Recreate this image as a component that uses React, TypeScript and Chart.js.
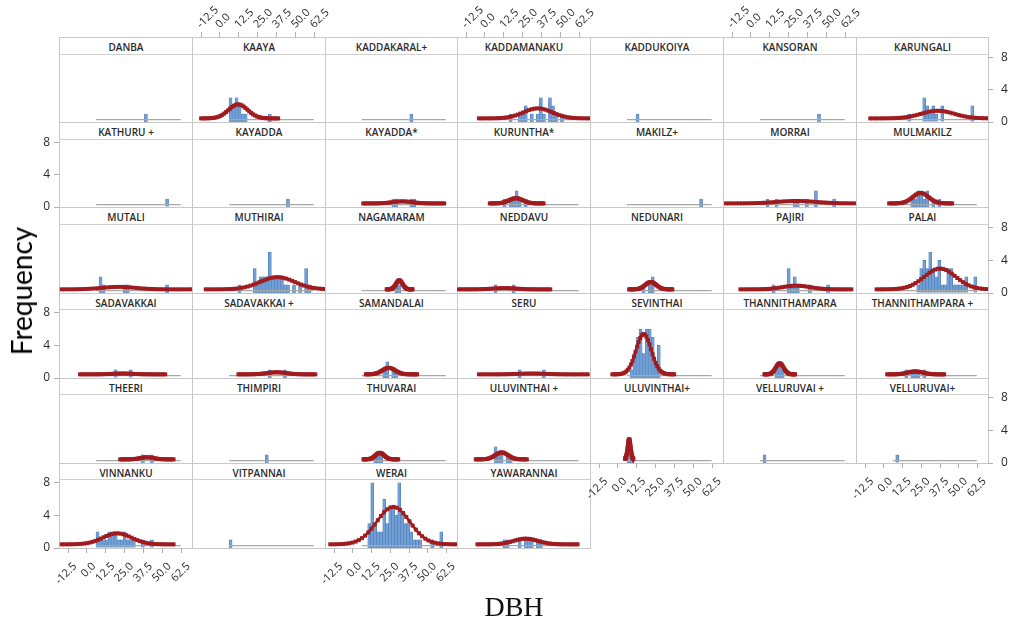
import React, { useEffect, useRef } from 'react';
import { Chart, registerables } from 'chart.js';

Chart.register(...registerables);

// ---------------- data ----------------
const PANEL_NAMES = [
  'DANBA', 'KAAYA', 'KADDAKARAL+', 'KADDAMANAKU', 'KADDUKOIYA', 'KANSORAN', 'KARUNGALI',
  'KATHURU +', 'KAYADDA', 'KAYADDA*', 'KURUNTHA*', 'MAKILZ+', 'MORRAI', 'MULMAKILZ',
  'MUTALI', 'MUTHIRAI', 'NAGAMARAM', 'NEDDAVU', 'NEDUNARI', 'PAJIRI', 'PALAI',
  'SADAVAKKAI', 'SADAVAKKAI +', 'SAMANDALAI', 'SERU', 'SEVINTHAI', 'THANNITHAMPARA', 'THANNITHAMPARA +',
  'THEERI', 'THIMPIRI', 'THUVARAI', 'ULUVINTHAI +', 'ULUVINTHAI+', 'VELLURUVAI +', 'VELLURUVAI+',
  'VINNANKU', 'VITPANNAI', 'WERAI', 'YAWARANNAI',
];

const BIN_WIDTH = 2;
const GRAY_RANGE = [6, 62];
const X_TICKS = [-12.5, 0, 12.5, 25, 37.5, 50, 62.5];
const Y_TICKS = [0, 4, 8];
const TOP_AXIS_COLS = [1, 3, 5];

// histogram bins: [bin start (DBH), count]
const H_DANBA = [[38, 1]];
const H_KAAYA = [[6, 3], [8, 2], [10, 3], [12, 2], [14, 1], [16, 1], [32, 1]];
const H_KADDAKARAL = [[38, 1]];
const H_KADDAMANAKU = [[16, 1], [22, 1], [24, 1], [26, 2], [30, 1], [34, 1], [36, 3], [38, 1], [42, 3], [44, 2], [46, 1], [50, 1]];
const H_KADDUKOIYA = [[12, 1]];
const H_KANSORAN = [[44, 1]];
const H_KARUNGALI = [[16, 1], [26, 3], [28, 2], [30, 1], [32, 2], [34, 1], [38, 2], [58, 2]];
const H_KATHURU = [[52, 1]];
const H_KAYADDA = [[44, 1]];
const H_KAYADDA_S = [[26, 1], [28, 1], [38, 1], [40, 1]];
const H_KURUNTHA_S = [[12, 1], [16, 1], [18, 1], [20, 2], [22, 1], [26, 1]];
const H_MAKILZ = [[54, 1]];
const H_MORRAI = [[10, 1], [16, 1], [28, 1], [30, 1], [36, 1], [42, 2], [54, 1]];
const H_MULMAKILZ = [[18, 1], [20, 1], [22, 2], [24, 2], [26, 1], [28, 2], [32, 1], [36, 1]];
const H_MUTALI = [[8, 2], [10, 1], [24, 1], [26, 1], [52, 1]];
const H_MUTHIRAI = [[12, 1], [22, 3], [24, 1], [26, 2], [28, 2], [30, 2], [32, 5], [34, 2], [36, 2], [38, 2], [40, 2], [42, 1], [44, 1], [48, 1], [52, 1], [56, 3], [58, 1]];
const H_NAGAMARAM = [[28, 1], [30, 1]];
const H_NEDDAVU = [[6, 1], [18, 1]];
const H_NEDUNARI = [[16, 1], [20, 1], [22, 2]];
const H_PAJIRI = [[14, 1], [24, 3], [26, 1], [28, 2], [30, 1], [38, 1], [50, 1]];
const H_PALAI = [[22, 1], [24, 3], [26, 4], [28, 3], [30, 5], [32, 3], [34, 2], [36, 4], [38, 1], [40, 1], [42, 3], [44, 3], [46, 1], [48, 1], [50, 1], [52, 1], [54, 2], [60, 2]];
const H_SADAVAKKAI = [[18, 1], [28, 1]];
const H_SADAVAKKAI_P = [[32, 1], [42, 1]];
const H_SAMANDALAI = [[20, 1], [22, 2], [26, 1], [28, 1]];
const H_SERU = [[22, 1], [38, 1]];
const H_SEVINTHAI = [[8, 1], [10, 3], [12, 5], [14, 6], [16, 3], [18, 6], [20, 6], [22, 5], [24, 2], [26, 4]];
const H_THANNITHAMPARA = [[16, 1], [18, 2], [20, 1]];
const H_THANNITHAMPARA_P = [[14, 1], [18, 1], [20, 1], [22, 1], [26, 1]];
const H_THEERI = [[36, 1], [42, 1]];
const H_THIMPIRI = [[30, 1]];
const H_THUVARAI = [[14, 1], [16, 1], [18, 1]];
const H_ULUVINTHAI_A = [[6, 2], [8, 1], [10, 1], [14, 1], [16, 1]];
const H_ULUVINTHAI_B = [[6, 3], [8, 1]];
const H_VELLURUVAI_A = [[8, 1]];
const H_VELLURUVAI_B = [[8, 1]];
const H_VINNANKU = [[6, 2], [8, 1], [10, 1], [12, 1], [14, 2], [16, 2], [18, 2], [20, 1], [22, 1], [24, 2], [26, 1], [28, 1], [30, 1], [36, 1], [42, 1]];
const H_VITPANNAI = [[6, 1]];
const H_WERAI = [[10, 3], [12, 8], [14, 3], [16, 2], [18, 2], [20, 6], [22, 3], [24, 5], [26, 5], [28, 4], [30, 8], [32, 4], [34, 3], [36, 3], [38, 2], [40, 1], [42, 1], [44, 1], [52, 1], [58, 2]];
const H_YAWARANNAI = [[12, 1], [14, 1], [22, 1], [26, 1], [28, 1], [30, 1], [34, 1], [36, 1]];

const HISTS = [
  H_DANBA, H_KAAYA, H_KADDAKARAL, H_KADDAMANAKU, H_KADDUKOIYA, H_KANSORAN, H_KARUNGALI,
  H_KATHURU, H_KAYADDA, H_KAYADDA_S, H_KURUNTHA_S, H_MAKILZ, H_MORRAI, H_MULMAKILZ,
  H_MUTALI, H_MUTHIRAI, H_NAGAMARAM, H_NEDDAVU, H_NEDUNARI, H_PAJIRI, H_PALAI,
  H_SADAVAKKAI, H_SADAVAKKAI_P, H_SAMANDALAI, H_SERU, H_SEVINTHAI, H_THANNITHAMPARA, H_THANNITHAMPARA_P,
  H_THEERI, H_THIMPIRI, H_THUVARAI, H_ULUVINTHAI_A, H_ULUVINTHAI_B, H_VELLURUVAI_A, H_VELLURUVAI_B,
  H_VINNANKU, H_VITPANNAI, H_WERAI, H_YAWARANNAI,
];

// fitted normal curve per panel (null = no fit drawn): mean, sd, peak height, drawn range
const FIT_MEAN = [null, 12, null, 35, null, null, 36, null, null, 33, 20.5, null, 30, 24.6, 21, 38, 31, 13, 21.7, 30, 37.5, 23.5, 37.5, 24, 31, 17, 19, 21, 39.7, null, 18, 11, 7.4, null, null, 20, null, 27, 27];
const FIT_SD = [null, 6.3, null, 9.5, null, null, 11, null, null, 6.5, 4.5, null, 13, 5.25, 11, 11.5, 2.2, 7.5, 3.6, 9, 10.5, 7, 6.4, 4.3, 9, 5, 2.6, 5, 4.4, null, 2.9, 4.2, 1.0, null, null, 9.5, null, 11, 8];
const FIT_PEAK = [null, 1.75, null, 1.25, null, null, 0.95, null, null, 0.25, 0.65, null, 0.3, 1.3, 0.3, 1.5, 1.1, 0.15, 0.9, 0.45, 2.55, 0.1, 0.25, 0.8, 0.1, 4.95, 1.35, 0.35, 0.25, null, 0.8, 0.85, 2.45, null, null, 1.35, null, 4.6, 0.7];
const FIT_LO = [null, -12.5, null, -4, null, null, -9, null, null, 7, 3.2, null, -16.5, 3.6, -16.7, -9.4, 22.6, -17.2, 7.4, -7, -4.8, -4.6, 12.2, 8.7, -4, -3.7, 8.9, 2.3, 22, null, 7.1, -6.1, 4.7, null, null, -16.7, null, -15, -5];
const FIT_HI = [null, 38.5, null, 69.5, null, null, 69.5, null, null, 61, 38.8, null, 69.5, 45.6, 69.5, 69.5, 39.9, 43.2, 36, 66.4, 69.5, 51.8, 63.1, 42.9, 68, 37.2, 29.2, 40.3, 57.3, null, 30.3, 27.7, 10.2, null, null, 57.3, null, 69.5, 61.3];

// ---------------- layout / style ----------------
const X_MIN = -18.5, X_MAX = 69.5, Y_MIN = 0, Y_MAX = 8.35;
const GX = 59, PW = 132.75, GY = 37, RH = 85.17, HH = 17.5;
const AX_L = 30, AX_R = 30, AX_X = 40, PAD = 26;
const BLUE = 'rgb(112,160,214)';
const BLUE_EDGE = 'rgb(80,126,180)';
const RED = '#a01b1f';
const GRAY = '#a8a8a8';
const FRAME = '#c8c8c8';
const TICK_COLOR = '#b0b0b0';
const LABEL_COLOR = '#2b2b2b';
const CURVE_FLOOR = 0.45;
const GRAY_Y = 0.3;
const CURVE_POINTS = 40;
const TICK_FONT = '"Open Sans", "Noto Sans", sans-serif';

function fitCurve(i: number) {
  const m = FIT_MEAN[i];
  if (m == null) return null;
  const sd = FIT_SD[i] as number, pk = FIT_PEAK[i] as number;
  const lo = FIT_LO[i] as number, hi = FIT_HI[i] as number;
  const pts: { x: number; y: number }[] = [];
  for (let k = 0; k <= CURVE_POINTS; k++) {
    const x = lo + ((hi - lo) * k) / CURVE_POINTS;
    if (x < X_MIN || x > X_MAX) continue;
    pts.push({ x, y: CURVE_FLOOR + pk * Math.exp(-0.5 * ((x - m) / sd) ** 2) });
  }
  return pts;
}

function axisFlags(r: number, c: number) {
  return {
    bottom: (r === 5 && (c === 0 || c === 2)) || (r === 4 && (c === 4 || c === 6)),
    left: c === 0 && (r === 1 || r === 3 || r === 5),
    right: c === 6 && (r === 0 || r === 2 || r === 4),
  };
}

function colEdges(c: number) {
  return [Math.round(GX + c * PW), Math.round(GX + (c + 1) * PW)];
}

function geom(idx: number) {
  const r = Math.floor(idx / 7), c = idx % 7;
  const [x0, x1] = colEdges(c);
  const yTop = Math.round(GY + r * RH), yBot = Math.round(GY + (r + 1) * RH);
  const py0 = Math.round(GY + r * RH + HH);
  return { r, c, x0, x1, yTop, yBot, py0 };
}

const zeroPad = (s: any) => {
  s.paddingLeft = 0; s.paddingRight = 0; s.paddingTop = 0; s.paddingBottom = 0;
};

function xTickOptions(position: string) {
  return {
    autoSkip: false,
    minRotation: 45,
    maxRotation: 45,
    padding: position === 'top' ? 1 : 7,
    labelOffset: position === 'top' ? 7 : 7,
    color: LABEL_COLOR,
    font: { family: TICK_FONT, size: 11 },
    callback: (v: any) => Number(v).toFixed(1),
  };
}

function Panel({ idx }: { idx: number }) {
  const ref = useRef<HTMLCanvasElement | null>(null);
  const { r, c, x0, x1, yBot, py0 } = geom(idx);
  const ax = axisFlags(r, c);
  const showY = ax.left || ax.right;
  const left = x0 - (ax.left ? AX_L : 0) - PAD;
  const right = x1 + (ax.right ? AX_R : 0) + PAD;
  const top = py0 - PAD;
  const bottom = yBot + (ax.bottom ? AX_X : 0) + PAD;
  const w = right - left, h = bottom - top;

  useEffect(() => {
    const canvas = ref.current;
    if (!canvas) return;
    const hist = HISTS[idx];
    const datasets: any[] = [
      {
        type: 'bar',
        data: hist.map(([b, n]) => ({ x: b + BIN_WIDTH / 2, y: n })),
        backgroundColor: BLUE,
        borderColor: BLUE_EDGE,
        borderWidth: 0.6,
        barThickness: (BIN_WIDTH * (x1 - x0)) / (X_MAX - X_MIN),
        grouped: false,
        order: 2,
      },
      {
        type: 'line',
        data: [{ x: GRAY_RANGE[0], y: GRAY_Y }, { x: GRAY_RANGE[1], y: GRAY_Y }],
        borderColor: GRAY,
        borderWidth: 1.2,
        pointRadius: 0,
        order: 1,
      },
    ];
    const curve = fitCurve(idx);
    if (curve) {
      datasets.push({
        type: 'line',
        data: curve,
        borderColor: RED,
        borderWidth: 2.6,
        pointStyle: 'rect',
        pointRadius: 2.8,
        pointBorderWidth: 0,
        pointBackgroundColor: RED,
        tension: 0,
        order: 0,
      });
    }
    const xFit = (s: any) => { s.height = ax.bottom ? AX_X : 0; zeroPad(s); };
    const yFit = (s: any) => { s.width = showY ? (ax.left ? AX_L : AX_R) : 0; zeroPad(s); };
    const chart = new Chart(canvas, {
      type: 'bar',
      data: { datasets },
      options: {
        animation: false,
        responsive: false,
        maintainAspectRatio: false,
        events: [],
        layout: { padding: PAD, autoPadding: false },
        plugins: { legend: { display: false }, tooltip: { enabled: false }, title: { display: false } },
        scales: {
          x: {
            type: 'linear',
            min: X_MIN,
            max: X_MAX,
            offset: false,
            display: ax.bottom,
            position: 'bottom',
            afterBuildTicks: (s: any) => { s.ticks = X_TICKS.map((v) => ({ value: v })); },
            afterFit: xFit,
            ticks: xTickOptions('bottom'),
            grid: { drawOnChartArea: false, offset: false, tickLength: 5, color: TICK_COLOR, lineWidth: 1 },
            border: { display: false },
          },
          y: {
            type: 'linear',
            min: Y_MIN,
            max: Y_MAX,
            display: showY,
            position: ax.left ? 'left' : 'right',
            afterBuildTicks: (s: any) => { s.ticks = Y_TICKS.map((v) => ({ value: v })); },
            afterFit: yFit,
            ticks: {
              padding: ax.left ? 4 : 8,
              color: LABEL_COLOR,
              font: { family: TICK_FONT, size: 12 },
              callback: (v: any) => String(v),
            },
            grid: { drawOnChartArea: false, tickLength: 5, color: TICK_COLOR, lineWidth: 1 },
            border: { display: false },
          },
        },
      } as any,
    } as any);
    return () => chart.destroy();
  }, []);

  return (
    <canvas
      ref={ref}
      width={w}
      height={h}
      style={{ position: 'absolute', left, top, width: w, height: h }}
    />
  );
}

// x axis drawn above the header strip of the first row
function TopAxis({ col }: { col: number }) {
  const ref = useRef<HTMLCanvasElement | null>(null);
  const [x0, x1] = colEdges(col);
  const left = x0 - PAD, w = x1 - x0 + 2 * PAD, h = GY + 1;
  useEffect(() => {
    const canvas = ref.current;
    if (!canvas) return;
    const chart = new Chart(canvas, {
      type: 'line',
      data: { datasets: [] },
      options: {
        animation: false,
        responsive: false,
        maintainAspectRatio: false,
        events: [],
        layout: { padding: { left: PAD, right: PAD, top: 0, bottom: 0 }, autoPadding: false },
        plugins: { legend: { display: false }, tooltip: { enabled: false } },
        scales: {
          x: {
            type: 'linear',
            min: X_MIN,
            max: X_MAX,
            offset: false,
            position: 'top',
            afterBuildTicks: (s: any) => { s.ticks = X_TICKS.map((v) => ({ value: v })); },
            afterFit: (s: any) => { s.height = GY; zeroPad(s); },
            ticks: xTickOptions('top'),
            grid: { drawOnChartArea: false, offset: false, tickLength: 5, color: TICK_COLOR, lineWidth: 1 },
            border: { display: false },
          },
          y: { type: 'linear', min: 0, max: 1, display: false },
        },
      } as any,
    } as any);
    return () => chart.destroy();
  }, []);
  return (
    <canvas ref={ref} width={w} height={h} style={{ position: 'absolute', left, top: 0, width: w, height: h }} />
  );
}

function Frame({ idx }: { idx: number }) {
  const { x0, x1, yTop, yBot, py0 } = geom(idx);
  return (
    <>
      <div
        style={{
          position: 'absolute', left: x0, top: yTop, width: x1 - x0 + 1, height: yBot - yTop + 1,
          border: `1px solid ${FRAME}`, boxSizing: 'border-box',
        }}
      />
      <div
        style={{
          position: 'absolute', left: x0 + 1, top: yTop + 1, width: x1 - x0 - 1, height: py0 - yTop - 1,
          borderBottom: '1px solid #d0d0d0', boxSizing: 'border-box',
          display: 'flex', alignItems: 'center', justifyContent: 'center',
          fontFamily: '"Open Sans", "Noto Sans", sans-serif', fontWeight: 600, fontSize: 10,
          color: '#2a2a2a', whiteSpace: 'nowrap', paddingTop: 2,
        }}
      >
        {PANEL_NAMES[idx]}
      </div>
    </>
  );
}

export default function App() {
  return (
    <div style={{ position: 'absolute', left: 0, top: 0, width: 1013, height: 622, background: '#fff', overflow: 'hidden' }}>
      {PANEL_NAMES.map((_, i) => <Frame key={'f' + i} idx={i} />)}
      {PANEL_NAMES.map((_, i) => <Panel key={'p' + i} idx={i} />)}
      {TOP_AXIS_COLS.map((c) => <TopAxis key={'t' + c} col={c} />)}
      <div
        style={{
          position: 'absolute', left: 21, top: 291, transform: 'translate(-50%, -50%) rotate(-90deg)',
          fontFamily: 'Lato, "Liberation Sans", sans-serif', fontSize: 28, lineHeight: 1, color: '#000', whiteSpace: 'nowrap',
        }}
      >
        Frequency
      </div>
      <div
        style={{
          position: 'absolute', left: 514, top: 607, transform: 'translate(-50%, -50%)',
          fontFamily: '"Liberation Serif", "DejaVu Serif", serif', fontSize: 28, lineHeight: 1, color: '#111', whiteSpace: 'nowrap',
        }}
      >
        DBH
      </div>
    </div>
  );
}
